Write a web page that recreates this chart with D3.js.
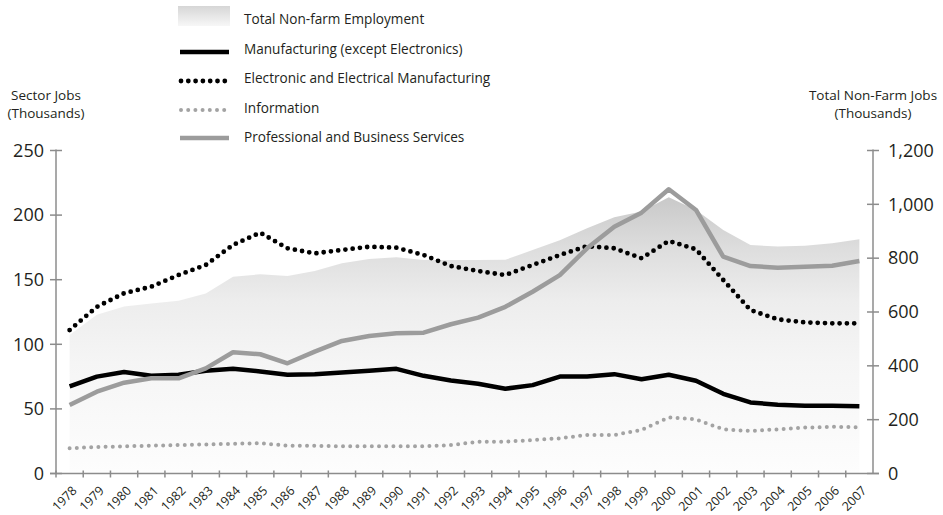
<!DOCTYPE html>
<html>
<head>
<meta charset="utf-8">
<script src="https://cdn.jsdelivr.net/npm/d3@7"></script>
<style>
  html, body { margin: 0; padding: 0; background: #fff; }
  svg { display: block; font-family: "Open Sans", "DejaVu Sans", sans-serif; }
</style>
</head>
<body>
<svg id="chart" width="943" height="515"></svg>
<script>
// ---- Data (thousands of jobs) ----
const years = [1978,1979,1980,1981,1982,1983,1984,1985,1986,1987,1988,1989,1990,1991,1992,
               1993,1994,1995,1996,1997,1998,1999,2000,2001,2002,2003,2004,2005,2006,2007];
const totalNonFarm = [515,590,620,632,642,669,731,740,734,752,781,797,803,793,793,
                      793,794,830,867,911,952,973,1026,979,905,849,843,846,855,870];
const manufacturing = [67.4,75,78.5,75.6,76.5,79.5,81,79,76.4,76.9,78.2,79.5,81,75.6,72,
                       69.4,65.6,68.4,75,75,76.9,73,76.4,71.8,61.7,55,53.2,52.5,52.5,52];
const electronics = [111,129,139.5,144.6,153.6,161.4,176.9,186.4,174.3,170.4,173,175.5,174.8,169.1,160.6,
                     156.7,153.6,161.4,169.1,176,174.3,166.6,180,173.5,149.8,126.5,119.3,117,116.2,116.2];
const information = [19.5,20.5,21,21.5,22,22.5,23,23.5,21.5,21.5,21,21,21,21,22,
                     24.6,24.6,25.9,27.2,29.8,29.8,33.7,43.5,41.9,34.2,32.9,34.2,35.5,36.2,35.8];
const professional = [53,63.3,70.3,73.7,73.7,81.4,93.8,92.3,85.3,94.3,102.6,106.4,108.5,109,115.5,
                      120.6,129,140.7,153.6,174.3,191,201.9,220,204,167.8,160.6,159.3,160,160.8,164.5];
const leftTicks = [0,50,100,150,200,250];
const rightTicks = [0,200,400,600,800,1000,1200];
const legendLabels = ["Total Non-farm Employment","Manufacturing (except Electronics)",
  "Electronic and Electrical Manufacturing","Information","Professional and Business Services"];

// ---- Layout ----
const svg = d3.select("#chart");
const X0 = 56, X1 = 873, Y0 = 473.5, Y1 = 150.5;
const x = d3.scaleBand().domain(years).range([X0, X1]);
const cx = d => x(d) + x.bandwidth() / 2;
const yL = d3.scaleLinear().domain([0, 250]).range([Y0, Y1]);
const yR = d3.scaleLinear().domain([0, 1200]).range([Y0, Y1]);

const defs = svg.append("defs");
const g1 = defs.append("linearGradient").attr("id", "areaGrad")
  .attr("gradientUnits", "userSpaceOnUse").attr("x1", 0).attr("x2", 0).attr("y1", 195).attr("y2", Y0);
[[0,"#c8c8c8"],[0.2,"#dedede"],[0.38,"#ededed"],[0.6,"#f5f5f5"],[1,"#fdfdfd"]].forEach(s =>
  g1.append("stop").attr("offset", s[0]).attr("stop-color", s[1]));
const g2 = defs.append("linearGradient").attr("id", "legGrad")
  .attr("x1", 0).attr("x2", 0).attr("y1", 0).attr("y2", 1);
[[0,"#d6d6d6"],[1,"#f7f7f7"]].forEach(s =>
  g2.append("stop").attr("offset", s[0]).attr("stop-color", s[1]));

// Area (right axis)
svg.append("path").datum(years.map((y, i) => [y, totalNonFarm[i]]))
  .attr("fill", "url(#areaGrad)")
  .attr("d", d3.area().x(d => cx(d[0])).y0(Y0).y1(d => yR(d[1])));

// Lines (left axis)
const line = d3.line().x(d => cx(d[0])).y(d => yL(d[1]));
function drawLine(vals, color, width, dash) {
  const p = svg.append("path").datum(years.map((y, i) => [y, vals[i]]))
    .attr("fill", "none").attr("stroke", color).attr("stroke-width", width)
    .attr("stroke-linejoin", "round").attr("d", line);
  if (dash) p.attr("stroke-dasharray", dash).attr("stroke-linecap", "round");
}
drawLine(information, "#a3a3a3", 4, "0 7.2");
drawLine(manufacturing, "#000", 4.5, null);
drawLine(electronics, "#000", 4.8, "0 7.3");
drawLine(professional, "#9c9c9c", 4.5, null);

// Axes
const axisColor = "#8c8c8c";
const ax = svg.append("g").attr("stroke", axisColor).attr("stroke-width", 1.5);
ax.append("line").attr("x1", X0).attr("x2", X0).attr("y1", Y1 - 1).attr("y2", Y0);
ax.append("line").attr("x1", X1).attr("x2", X1).attr("y1", Y1 - 1).attr("y2", Y0);
ax.append("line").attr("x1", X0 - 6).attr("x2", X1 + 6).attr("y1", Y0).attr("y2", Y0);
leftTicks.forEach(t => ax.append("line").attr("x1", X0 - 6).attr("x2", X0 + 6).attr("y1", yL(t)).attr("y2", yL(t)));
rightTicks.forEach(t => ax.append("line").attr("x1", X1 - 6).attr("x2", X1 + 6).attr("y1", yR(t)).attr("y2", yR(t)));
years.forEach(y => ax.append("line").attr("x1", x(y)).attr("x2", x(y)).attr("y1", Y0 - 3).attr("y2", Y0 + 4));

const txt = "#231f20";
svg.append("g").selectAll("text").data(leftTicks).join("text")
  .attr("x", X0 - 12).attr("y", d => yL(d)).attr("dy", "0.35em")
  .attr("text-anchor", "end").attr("font-size", 18).attr("fill", txt).text(d => d);
svg.append("g").selectAll("text").data(rightTicks).join("text")
  .attr("x", X1 + 15).attr("y", d => yR(d)).attr("dy", "0.35em")
  .attr("text-anchor", "start").attr("font-size", 18).attr("fill", txt).text(d => d3.format(",")(d));
svg.append("g").selectAll("text").data(years).join("text")
  .attr("transform", d => `translate(${cx(d) + 8},${Y0 + 18}) rotate(-45)`)
  .attr("text-anchor", "end").attr("font-size", 12.5).attr("fill", txt).text(d => d);

// Axis titles
svg.append("text").attr("x", 46).attr("y", 100).attr("text-anchor", "middle")
  .attr("font-size", 13.5).attr("fill", txt).text("Sector Jobs");
svg.append("text").attr("x", 46).attr("y", 118).attr("text-anchor", "middle")
  .attr("font-size", 13.5).attr("fill", txt).text("(Thousands)");
svg.append("text").attr("x", X1).attr("y", 100).attr("text-anchor", "middle")
  .attr("font-size", 13.5).attr("fill", txt).text("Total Non-Farm Jobs");
svg.append("text").attr("x", X1).attr("y", 118).attr("text-anchor", "middle")
  .attr("font-size", 13.5).attr("fill", txt).text("(Thousands)");

// Legend
const legY = [16, 52, 81, 110, 138];
const leg = svg.append("g");
leg.append("rect").attr("x", 178).attr("y", 6).attr("width", 52).attr("height", 20).attr("fill", "url(#legGrad)");
leg.append("line").attr("x1", 180).attr("x2", 229).attr("y1", legY[1]).attr("y2", legY[1])
  .attr("stroke", "#000").attr("stroke-width", 4.5);
leg.append("line").attr("x1", 181).attr("x2", 229).attr("y1", legY[2]).attr("y2", legY[2])
  .attr("stroke", "#000").attr("stroke-width", 4.8).attr("stroke-dasharray", "0 7.3").attr("stroke-linecap", "round");
leg.append("line").attr("x1", 181).attr("x2", 229).attr("y1", legY[3]).attr("y2", legY[3])
  .attr("stroke", "#a3a3a3").attr("stroke-width", 4).attr("stroke-dasharray", "0 7.2").attr("stroke-linecap", "round");
leg.append("line").attr("x1", 180).attr("x2", 229).attr("y1", legY[4]).attr("y2", legY[4])
  .attr("stroke", "#9c9c9c").attr("stroke-width", 4.5);
leg.selectAll("text.l").data(legendLabels).join("text")
  .attr("x", 244).attr("y", (d, i) => [24, 53.5, 83, 112.5, 142][i])
  .attr("font-size", 13.6).attr("fill", txt).text(d => d);
</script>
</body>
</html>
